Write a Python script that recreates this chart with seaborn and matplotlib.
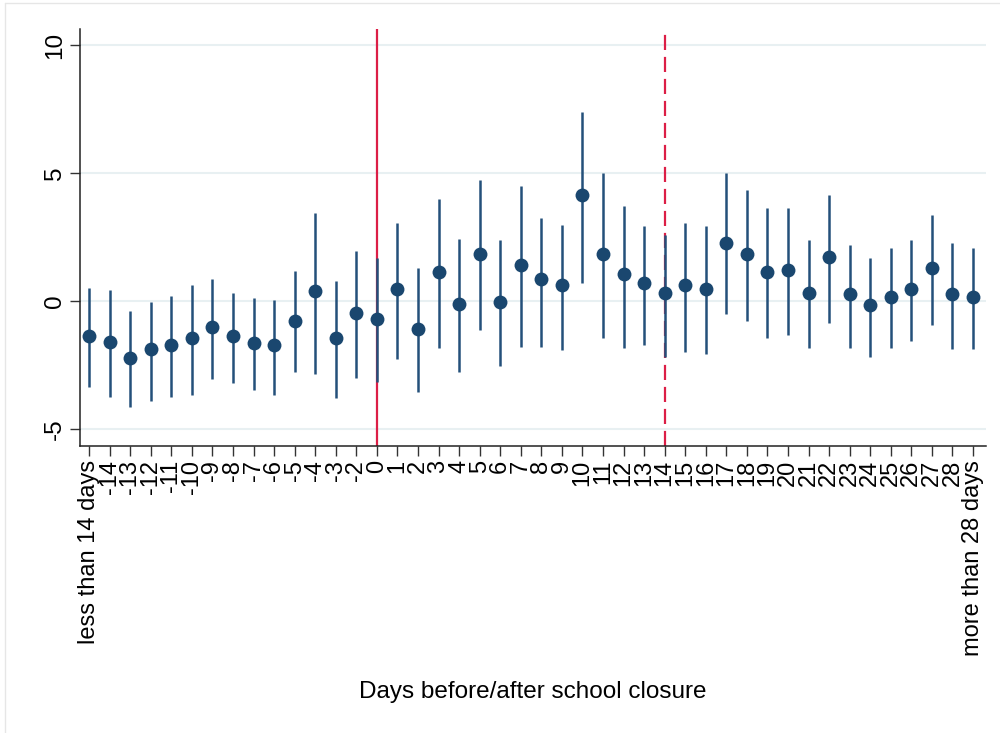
import numpy as np
import matplotlib
matplotlib.use("Agg")
import matplotlib.pyplot as plt
from matplotlib.lines import Line2D
import seaborn as sns

# ---- data ----
categories = (["less than 14 days"] + [str(d) for d in range(-14, -1)]
              + [str(d) for d in range(0, 29)] + ["more than 28 days"])

estimates = [-1.36, -1.58, -2.23, -1.87, -1.73, -1.43, -1.00, -1.36, -1.65, -1.72,
             -0.77, 0.39, -1.43, -0.48,
             -0.70, 0.47, -1.07, 1.12, -0.10, 1.86, -0.04, 1.43, 0.85, 0.63,
             4.13, 1.86, 1.05, 0.69, 0.33, 0.63, 0.48, 2.29, 1.86, 1.13,
             1.21, 0.33, 1.72, 0.26, -0.17, 0.18, 0.48, 1.28, 0.26, 0.18]

ci_upper = [0.50, 0.43, -0.39, -0.04, 0.20, 0.65, 0.87, 0.30, 0.13, 0.05,
            1.16, 3.46, 0.77, 1.94,
            1.69, 3.06, 1.30, 4.00, 2.43, 4.75, 2.39, 4.50, 3.25, 2.97,
            7.39, 5.00, 3.72, 2.94, 2.60, 3.05, 2.93, 5.00, 4.36, 3.62,
            3.62, 2.38, 4.15, 2.21, 1.69, 2.06, 2.39, 3.37, 2.28, 2.07]

ci_lower = [-3.35, -3.74, -4.15, -3.89, -3.75, -3.65, -3.03, -3.18, -3.49, -3.65,
            -2.77, -2.84, -3.78, -3.00,
            -3.15, -2.25, -3.53, -1.85, -2.77, -1.12, -2.54, -1.78, -1.78, -1.91,
            0.71, -1.43, -1.82, -1.71, -2.20, -1.99, -2.06, -0.52, -0.79, -1.45,
            -1.34, -1.82, -0.86, -1.84, -2.20, -1.82, -1.55, -0.94, -1.86, -1.86]

yticks = [-5, 0, 5, 10]
closure_day = "0"
two_weeks_day = "14"

# ---- plot ----
sns.set_theme(style="white")
plt.rcParams['font.family'] = ['Liberation Sans', 'DejaVu Sans']
plt.rcParams['text.color'] = 'black'
plt.rcParams['axes.labelcolor'] = 'black'

navy = "#1a476f"
ci_col = "#24507a"
red = "#dc1e46"

fig = plt.figure(figsize=(10, 7.33), dpi=100)
ax = fig.add_axes([0.08, 0.3915, 0.906, 0.5689])

pos = np.arange(len(categories))
x0 = categories.index(closure_day)
x14 = categories.index(two_weeks_day)

ax.axvline(x0, color=red, lw=1.6, zorder=1)
ax.axvline(x14, color=red, lw=1.6, ls=(0, (6.8, 3.1)), zorder=1)

ax.vlines(pos, ci_lower, ci_upper, color=ci_col, lw=1.8, zorder=2)
sns.scatterplot(x=pos, y=estimates, ax=ax, color=navy, s=100,
                edgecolor=navy, linewidth=0, zorder=3, legend=False)

ax.set_xlim(-0.44, 43.63)
ax.set_ylim(-5.66, 10.63)
ax.set_yticks(yticks)
ax.set_yticklabels([str(t) for t in yticks], rotation=90, va="center", fontsize=17.5)
ax.set_xticks(pos)
ax.set_xticklabels(categories, rotation=90, fontsize=17)

ax.grid(axis="y", color="#e8f0f2", lw=1.5)
ax.set_axisbelow(True)
for s in ["top", "right"]:
    ax.spines[s].set_visible(False)
for s in ["left", "bottom"]:
    ax.spines[s].set_color("#222222")
    ax.spines[s].set_linewidth(1.1)
ax.tick_params(axis="both", which="both", direction="out", length=7, width=1,
               color="#333333", labelcolor="black", bottom=True, left=True, pad=3)

ax.set_xlabel("Days before/after school closure", fontsize=17.5, labelpad=18)
ax.set_ylabel("")

# thin graph-region border (left and top)
fig.add_artist(Line2D([0.005, 0.005], [0.0, 0.996], color="#e6e6e6", lw=1))
fig.add_artist(Line2D([0.005, 1.0], [0.996, 0.996], color="#e6e6e6", lw=1))

fig.savefig("out.png", dpi=100)
